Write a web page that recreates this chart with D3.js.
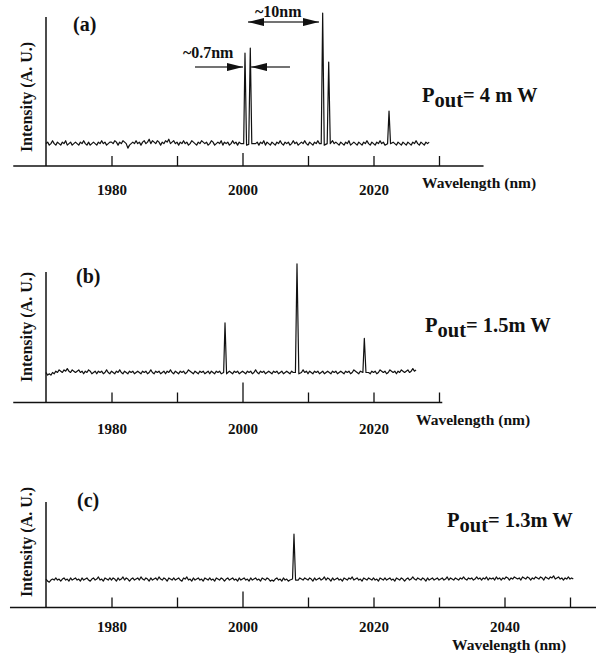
<!DOCTYPE html>
<html>
<head>
<meta charset="utf-8">
<script src="https://cdn.jsdelivr.net/npm/d3@7"></script>
<style>
body{margin:0;background:#fff;}
</style>
</head>
<body>
<script>
// traces are sampled every 0.25 nm from 1970 nm; intensities in A.U. (0-100 per panel)
var noiseStart=1970, noiseStep=0.25;

var noiseA=[15,16,14,15,17,15,14,16,15,14,16,15,17,14,15,16,14,15,16,15,
 14,16,15,17,15,14,16,14,15,16,15,14,16,15,17,15,16,14,15,16,
 16,15,17,16,14,16,15,17,16,15,12,14,15,16,15,17,15,16,14,16,
 17,15,16,18,15,17,16,15,17,16,14,16,15,17,16,18,15,16,17,15,
 16,14,16,15,17,15,16,14,15,17,16,15,14,16,15,17,16,15,16,14,
 15,17,16,14,15,16,15,17,14,16,15,16,14,15,17,15,16,14,16,15,
 16,15,14,15,16,15,14,15,15,16,14,16,15,17,14,16,15,14,16,15,
 14,16,15,17,15,14,16,15,16,14,15,17,15,16,14,15,16,15,17,15,
 14,16,15,14,16,15,17,15,16,14,15,16,14,15,16,17,15,16,15,14,
 16,15,14,16,15,17,14,15,16,15,14,16,15,14,16,15,17,15,14,16,
 15,14,16,15,17,15,16,14,15,16,15,17,16,15,14,16,15,14,16,15,
 14,16,15,14,16,15,17,15,14,16,15,14,16,15,16];

var noiseB=[23,21,22,21,23,22,24,23,25,24,23,25,24,26,24,23,25,24,23,24,
 25,23,24,22,24,23,25,24,22,23,24,22,24,23,24,22,23,25,23,22,
 24,23,22,24,23,25,23,22,24,23,22,24,23,24,22,23,24,23,22,24,
 23,24,22,23,25,23,22,24,23,24,22,23,24,22,24,23,25,23,22,24,
 23,22,24,23,24,22,23,25,24,23,22,24,23,22,24,23,24,22,23,24,
 22,24,23,22,24,23,24,22,23,24,23,22,24,23,22,24,23,24,22,23,
 24,23,22,24,23,24,22,23,25,23,22,24,23,24,22,23,24,23,22,24,
 23,24,22,23,24,22,23,24,23,22,24,23,24,22,23,24,23,25,23,24,
 22,24,23,22,24,23,24,22,23,24,22,23,24,23,22,24,23,24,22,23,
 24,23,22,24,23,24,22,23,25,24,23,22,24,23,24,22,24,23,22,24,
 23,24,22,23,25,24,23,24,22,23,25,24,23,24,22,24,23,25,24,23,
 24,25,23,24,26,24,25];

var noiseC=[27,25,24,26,27,26,28,26,27,25,27,28,26,27,25,28,26,27,28,26,
 27,25,28,26,27,28,26,25,27,28,26,27,29,26,27,25,28,27,26,28,
 26,28,27,25,28,26,27,29,26,28,27,25,27,28,26,27,28,26,29,27,
 26,28,27,25,28,26,27,28,26,29,27,26,28,27,25,28,27,26,28,26,
 27,28,26,25,28,27,29,26,27,25,28,26,27,28,26,27,25,28,27,26,
 28,26,27,25,28,27,26,28,27,25,27,28,26,27,28,26,27,25,28,26,
 27,28,26,27,25,28,26,27,28,26,27,25,28,27,26,28,27,25,26,25,
 27,28,26,27,25,28,26,27,25,26,24,26,25,27,26,28,27,26,28,27,
 26,28,27,25,28,26,27,28,26,27,29,26,28,27,25,28,26,27,28,26,
 27,25,28,27,26,28,27,29,26,27,28,26,27,25,28,27,26,28,27,26,
 28,26,27,25,28,27,26,28,26,27,28,26,27,25,28,27,26,28,27,25,
 27,28,26,27,29,27,26,28,27,26,28,27,25,28,26,27,28,26,27,28,
 26,27,28,26,27,29,26,28,27,26,28,27,26,28,27,29,27,26,28,27,
 28,26,27,29,27,28,26,28,27,29,26,28,27,28,26,29,27,28,26,28,
 27,29,28,26,28,27,29,28,27,28,26,29,28,27,29,28,26,28,27,29,
 28,27,29,28,26,29,28,27,29,28,30,27,28,29,27,28,26,28,27,29,
 27,28,27];

// laser lines: [wavelength nm, intensity]
var peaksA=[[2000.18,15],[2000.38,75.8],[2000.62,14],[2000.95,14.5],[2001.19,79.2],[2001.42,15],
 [2012.02,15],[2012.24,102.7],[2012.48,14],[2012.93,15],[2013.16,69.8],[2013.4,15],
 [2022.15,15],[2022.37,36.9],[2022.6,15]];
var peaksB=[[1997.12,23],[1997.33,61],[1997.57,22],
 [2008.08,23],[2008.32,106.2],[2008.6,22],
 [2018.38,23],[2018.6,49.2],[2018.85,23]];
var peaksC=[[2007.64,27],[2007.86,69.5],[2008.1,26]];

var tickValues=[1980,1990,2000,2010,2020,2030,2040,2050];
var tickLabels=[1980,2000,2020,2040];
var panelNames=["(a)","(b)","(c)"];
var powerValues=["4 m W","1.5m W","1.3m W"];

// annotation arrows of panel (a): [from wavelength, to wavelength, intensity, double headed]
var arrowsA=[[1992.75,2000.08,66.4,false],[2007.25,2001.3,66.4,false],[2000.84,2011.68,96.6,true]];
var notesA=[["~0.7nm",1990.9,72.8],["~10nm",2001.9,100]];

var width=596,height=655,ink="#111";
var serif="'Liberation Serif','Times New Roman',Tinos,'DejaVu Serif',serif";
var x=d3.scaleLinear().domain([1970,2050]).range([46,570]);

var panels=[
 {noise:noiseA,peaks:peaksA,axisY:166,topY:17,axisFrom:1965,axisTo:2036.8,lastTick:2030,longTick:13,labelY:29,
  titleX:422,titleY:188,nameX:73,nameY:31,powX:422,powY:101.5,yMid:97},
 {noise:noiseB,peaks:peaksB,axisY:402.5,topY:272,axisFrom:1965,axisTo:2030.5,lastTick:2030,longTick:20,labelY:31,
  titleX:416,titleY:425,nameX:76,nameY:283,powX:425,powY:331.5,yMid:327},
 {noise:noiseC,peaks:peaksC,axisY:607.5,topY:502,axisFrom:1964.5,axisTo:2060,lastTick:2050,longTick:16,labelY:24.5,
  titleX:452,titleY:650,nameX:77,nameY:507,powX:447,powY:526.5,yMid:542}
];

var svg=d3.select("body").append("svg").attr("width",width).attr("height",height)
	.attr("font-family",serif).attr("font-weight","bold")
	.style("display","block");
svg.append("rect").attr("width",width).attr("height",height).attr("fill","#fff");

svg.append("defs").append("marker")
	.attr("id","head").attr("viewBox","0 0 16 8").attr("refX",16).attr("refY",4)
	.attr("markerWidth",16).attr("markerHeight",8).attr("markerUnits","userSpaceOnUse")
	.attr("orient","auto-start-reverse")
	.append("path").attr("d","M0,0L16,4L0,8Z").attr("fill",ink);

panels.forEach(function(p,k){
	var y=d3.scaleLinear().domain([0,100]).range([p.axisY,p.topY]);

	// x axis: long base line with upward ticks
	var g=svg.append("g").attr("transform","translate(0,"+p.axisY+")");
	g.append("line").attr("x1",x(p.axisFrom)).attr("x2",x(p.axisTo))
		.attr("stroke",ink).attr("stroke-width",1.5);
	var ax=d3.axisBottom(x)
		.tickValues(tickValues.filter(function(t){return t<=p.lastTick;}))
		.tickSize(-10).tickSizeOuter(0)
		.tickFormat(function(d){return tickLabels.indexOf(d)>=0?d:"";});
	var axG=g.append("g").call(ax).attr("font-family",serif).attr("font-size",15);
	axG.select(".domain").remove();
	axG.selectAll(".tick line").attr("stroke",ink).attr("stroke-width",1.3)
		.attr("y2",function(d){return d===2000?-p.longTick:-10;});
	axG.selectAll(".tick text").attr("y",p.labelY).attr("dy",null).attr("fill",ink);

	// y axis at 1970 nm
	svg.append("line").attr("x1",x(1970)).attr("x2",x(1970))
		.attr("y1",p.axisY).attr("y2",p.topY).attr("stroke",ink).attr("stroke-width",1.5);

	// spectrum
	var pts=p.noise.map(function(v,i){return [noiseStart+i*noiseStep,v];})
		.filter(function(d){return !p.peaks.some(function(q){return Math.abs(q[0]-d[0])<0.2;});})
		.concat(p.peaks)
		.sort(function(a,b){return a[0]-b[0];});
	svg.append("path").datum(pts)
		.attr("fill","none").attr("stroke",ink).attr("stroke-width",1.2).attr("stroke-linejoin","round")
		.attr("d",d3.line().x(function(d){return x(d[0]);}).y(function(d){return y(d[1]);}));

	// texts
	svg.append("text").attr("x",p.titleX).attr("y",p.titleY).attr("font-size",15.5).attr("fill",ink)
		.text("Wavelength (nm)");
	svg.append("text").attr("transform","translate(32,"+p.yMid+") rotate(-90)")
		.attr("text-anchor","middle").attr("font-size",16).attr("fill",ink)
		.text("Intensity (A. U.)");
	svg.append("text").attr("x",p.nameX).attr("y",p.nameY).attr("font-size",20).attr("fill",ink)
		.text(panelNames[k]);
	var pw=svg.append("text").attr("x",p.powX).attr("y",p.powY).attr("font-size",20.5).attr("fill",ink);
	pw.append("tspan").text("P");
	pw.append("tspan").attr("dy",5).text("out");
	pw.append("tspan").attr("dy",-5).text("= "+powerValues[k]);

	if(k===0){
		arrowsA.forEach(function(a){
			svg.append("line").attr("x1",x(a[0])).attr("x2",x(a[1])).attr("y1",y(a[2])).attr("y2",y(a[2]))
				.attr("stroke","#444").attr("stroke-width",1.4)
				.attr("marker-end","url(#head)").attr("marker-start",a[3]?"url(#head)":null);
		});
		notesA.forEach(function(n){
			svg.append("text").attr("x",x(n[1])).attr("y",y(n[2])).attr("font-size",16).attr("fill",ink).text(n[0]);
		});
	}
});
</script>
</body>
</html>
